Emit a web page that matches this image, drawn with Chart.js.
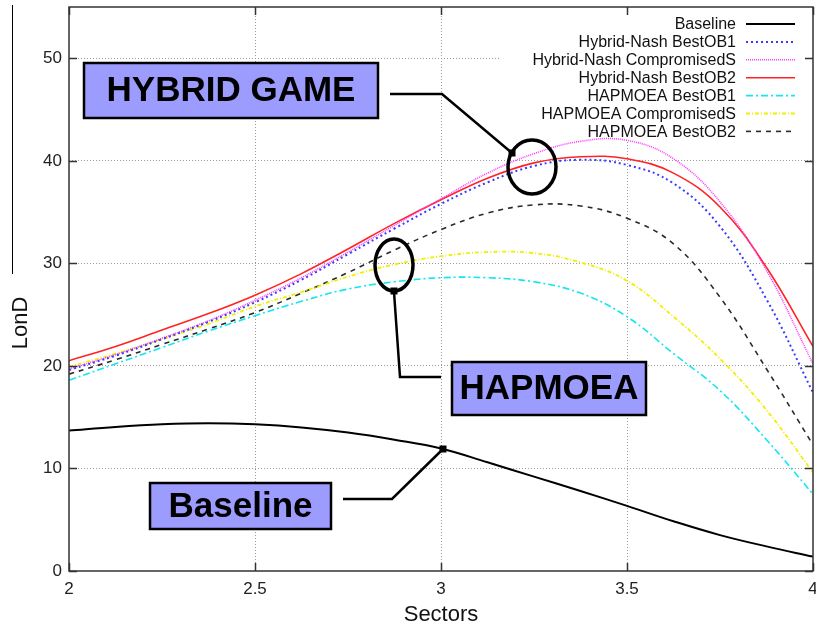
<!DOCTYPE html>
<html>
<head>
<meta charset="utf-8">
<script src="https://cdn.jsdelivr.net/npm/chart.js@4.4.1/dist/chart.umd.min.js"></script>
<style>
  html, body { margin: 0; padding: 0; background: #fff; }
  #wrap { width: 816px; height: 633px; }
</style>
</head>
<body>
<div id="wrap"><canvas id="chart" width="816" height="633"></canvas></div>
<script>
/* ── LonD vs Sectors · gnuplot-style line chart ─────────────────────────── */

// sample positions along the x axis
const SECTORS = [2, 2.125, 2.25, 2.375, 2.5, 2.625, 2.75, 2.875, 3, 3.125, 3.25, 3.375, 3.5, 3.625, 3.75, 3.875, 4];

// series
const BASELINE = [13.7, 14.05, 14.3, 14.4, 14.3, 14.0, 13.5, 12.8, 11.95, 10.6, 9.2, 7.8, 6.35, 4.85, 3.5, 2.4, 1.4];
const HN_BESTOB1 = [19.6, 21.0, 22.6, 24.3, 26.2, 28.4, 30.9, 33.4, 35.8, 37.9, 39.5, 40.1, 39.6, 37.8, 33.6, 26.5, 17.4];
const HN_COMPS = [19.7, 21.1, 22.7, 24.4, 26.4, 28.6, 31.1, 33.7, 36.3, 38.8, 40.7, 41.9, 42.0, 40.2, 36.0, 29.3, 20.2];
const HN_BESTOB2 = [20.5, 21.9, 23.5, 25.1, 26.9, 29.0, 31.4, 33.9, 36.2, 38.3, 39.8, 40.4, 40.2, 38.8, 35.5, 29.6, 21.9];
const HA_BESTOB1 = [18.6, 20.2, 21.8, 23.4, 24.9, 26.3, 27.5, 28.2, 28.6, 28.6, 28.2, 27.1, 24.8, 21.2, 17.6, 12.8, 7.5];
const HA_COMPS = [19.9, 21.2, 22.6, 24.1, 25.8, 27.2, 28.7, 29.9, 30.7, 31.1, 31.0, 30.1, 28.3, 24.8, 20.7, 15.7, 9.6];
const HA_BESTOB2 = [19.2, 20.6, 22.1, 23.6, 25.2, 27.1, 29.1, 31.3, 33.3, 34.9, 35.7, 35.6, 34.4, 31.9, 26.7, 19.7, 12.3];

const SERIES_NAMES = [
  "Baseline", "Hybrid-Nash BestOB1", "Hybrid-Nash CompromisedS", "Hybrid-Nash BestOB2",
  "HAPMOEA BestOB1", "HAPMOEA CompromisedS", "HAPMOEA BestOB2",
];
const SERIES_VALUES = [BASELINE, HN_BESTOB1, HN_COMPS, HN_BESTOB2, HA_BESTOB1, HA_COMPS, HA_BESTOB2];

// axis ticks
const X_TICKS = [2, 2.5, 3, 3.5, 4];
const Y_TICKS = [0, 10, 20, 30, 40, 50];

// line styles, same order as the series
const STYLES = [
  { color: "#000000", width: 2,   dash: [] },
  { color: "#3b3bff", width: 2,   dash: [2, 3] },
  { color: "#ff3cff", width: 1.6, dash: [1, 1] },
  { color: "#ff2424", width: 1.6, dash: [] },
  { color: "#12e6f0", width: 1.6, dash: [7, 3, 2, 3] },
  { color: "#f0f000", width: 1.8, dash: [4, 2, 1, 2] },
  { color: "#2a2a2a", width: 1.6, dash: [5, 5] },
];

const FONT = "'Liberation Sans', Arial, sans-serif";

// ── callouts (boxes, leaders, ellipses) ─────────────────────────────────────
function calloutBox(ctx, x, y, w, h, text) {
  ctx.save();
  ctx.fillStyle = "#9c9cff";
  ctx.strokeStyle = "#000";
  ctx.lineWidth = 2.5;
  ctx.fillRect(x, y, w, h);
  ctx.strokeRect(x, y, w, h);
  ctx.fillStyle = "#000";
  ctx.font = `bold 35px ${FONT}`;
  ctx.textAlign = "center";
  ctx.textBaseline = "middle";
  ctx.fillText(text, x + w / 2, y + h / 2 + 1);
  ctx.restore();
}

function polyline(ctx, pts) {
  ctx.save();
  ctx.strokeStyle = "#000";
  ctx.lineWidth = 2.5;
  ctx.beginPath();
  pts.forEach((p, i) => i ? ctx.lineTo(p[0], p[1]) : ctx.moveTo(p[0], p[1]));
  ctx.stroke();
  ctx.restore();
}

function marker(ctx, x, y) {
  ctx.save();
  ctx.fillStyle = "#000";
  ctx.fillRect(x - 3.5, y - 3.5, 7, 7);
  ctx.restore();
}

function ring(ctx, cx, cy, rx, ry) {
  ctx.save();
  ctx.strokeStyle = "#000";
  ctx.lineWidth = 3.5;
  ctx.beginPath();
  ctx.ellipse(cx, cy, rx, ry, 0, 0, Math.PI * 2);
  ctx.stroke();
  ctx.restore();
}

const gnuplotDecor = {
  id: "gnuplotDecor",
  beforeDatasetsDraw(chart) {
    // white legend background hides the grid behind the key
    const ctx = chart.ctx;
    ctx.save();
    ctx.fillStyle = "#fff";
    ctx.fillRect(500, 13, 305, 127);
    ctx.restore();
  },
  afterDraw(chart) {
    const { ctx, chartArea: a, scales: { x, y } } = chart;

    // frame + inward ticks on all four sides
    ctx.save();
    ctx.strokeStyle = "#333";
    ctx.lineWidth = 1.5;
    ctx.strokeRect(a.left, a.top, a.right - a.left, a.bottom - a.top);
    ctx.beginPath();
    Y_TICKS.forEach(v => {
      const py = Math.round(y.getPixelForValue(v)) + 0.5;
      ctx.moveTo(a.left, py); ctx.lineTo(a.left + 8, py);
      ctx.moveTo(a.right, py); ctx.lineTo(a.right - 8, py);
    });
    X_TICKS.forEach(v => {
      const px = Math.round(x.getPixelForValue(v)) + 0.5;
      ctx.moveTo(px, a.bottom); ctx.lineTo(px, a.bottom - 8);
      ctx.moveTo(px, a.top); ctx.lineTo(px, a.top + 8);
    });
    ctx.stroke();
    ctx.restore();

    // y axis title + the stray rule above it
    ctx.save();
    ctx.strokeStyle = "#000";
    ctx.lineWidth = 1;
    ctx.beginPath();
    ctx.moveTo(12.5, 5); ctx.lineTo(12.5, 274);
    ctx.stroke();
    ctx.translate(21, 323);
    ctx.rotate(-Math.PI / 2);
    ctx.font = `22px ${FONT}`;
    ctx.fillStyle = "#111";
    ctx.textAlign = "center";
    ctx.textBaseline = "middle";
    ctx.fillText("LonD", 0, 0);
    ctx.restore();

    // key
    ctx.save();
    ctx.font = `16px ${FONT}`;
    ctx.textAlign = "right";
    ctx.textBaseline = "middle";
    chart.data.datasets.forEach((ds, i) => {
      const ry = 24 + i * 17.9;
      ctx.fillStyle = "#111";
      ctx.fillText(ds.label, 736, ry + 1);
      ctx.strokeStyle = ds.borderColor;
      ctx.lineWidth = ds.borderWidth;
      ctx.setLineDash(ds.borderDash);
      ctx.beginPath();
      ctx.moveTo(746, ry); ctx.lineTo(795, ry);
      ctx.stroke();
    });
    ctx.restore();

    // HYBRID GAME
    polyline(ctx, [[390, 94], [442, 94], [512, 153]]);
    marker(ctx, 512, 153);
    ring(ctx, 532, 167, 24, 27);
    calloutBox(ctx, 84, 63, 294, 55, "HYBRID GAME");

    // HAPMOEA
    polyline(ctx, [[441, 377], [400, 377], [394, 292]]);
    marker(ctx, 394, 291);
    ring(ctx, 394, 265, 19, 26);
    calloutBox(ctx, 452, 362, 194, 53, "HAPMOEA");

    // Baseline
    polyline(ctx, [[343, 499], [392, 499], [443, 449]]);
    marker(ctx, 443, 449);
    calloutBox(ctx, 150, 483, 181, 46, "Baseline");
  },
};

const datasets = SERIES_NAMES.map((name, i) => ({
  label: name,
  data: SECTORS.map((s, k) => ({ x: s, y: SERIES_VALUES[i][k] })),
  borderColor: STYLES[i].color,
  borderWidth: STYLES[i].width,
  borderDash: STYLES[i].dash,
  pointRadius: 0,
  fill: false,
  tension: 0.4,
}));

const gridColor = edge => c => (c.tick && (c.tick.value === edge[0] || c.tick.value === edge[1])) ? "rgba(0,0,0,0)" : "#9a9a9a";

new Chart(document.getElementById("chart").getContext("2d"), {
  type: "line",
  data: { datasets },
  options: {
    responsive: false, animation: false, devicePixelRatio: 1,
    layout: { padding: { top: 7, right: 3, left: 0, bottom: 0 } },
    plugins: { legend: { display: false }, tooltip: { enabled: false } },
    scales: {
      x: {
        type: "linear", min: 2, max: 4,
        afterBuildTicks: s => { s.ticks = X_TICKS.map(v => ({ value: v })); },
        afterFit: s => { s.height = 62; s.paddingLeft = 0; s.paddingRight = 0; },
        ticks: { color: "#222", font: { family: FONT, size: 17 }, padding: 8, maxRotation: 0, autoSkip: false, callback: v => String(v) },
        grid: { drawTicks: false, color: gridColor([2, 4]), lineWidth: 1 },
        border: { display: false, dash: [1, 2] },
        title: { display: true, text: "Sectors", color: "#111", font: { family: FONT, size: 22 }, padding: { top: 0, bottom: 5 } },
      },
      y: {
        min: 0, max: 55,
        afterBuildTicks: s => { s.ticks = Y_TICKS.map(v => ({ value: v })); },
        afterFit: s => { s.width = 69; s.paddingTop = 0; s.paddingBottom = 0; },
        ticks: { color: "#222", font: { family: FONT, size: 17 }, padding: 7, callback: v => String(v) },
        grid: { drawTicks: false, color: gridColor([0, 55]), lineWidth: 1 },
        border: { display: false, dash: [1, 2] },
      },
    },
  },
  plugins: [gnuplotDecor],
});
</script>
</body>
</html>
